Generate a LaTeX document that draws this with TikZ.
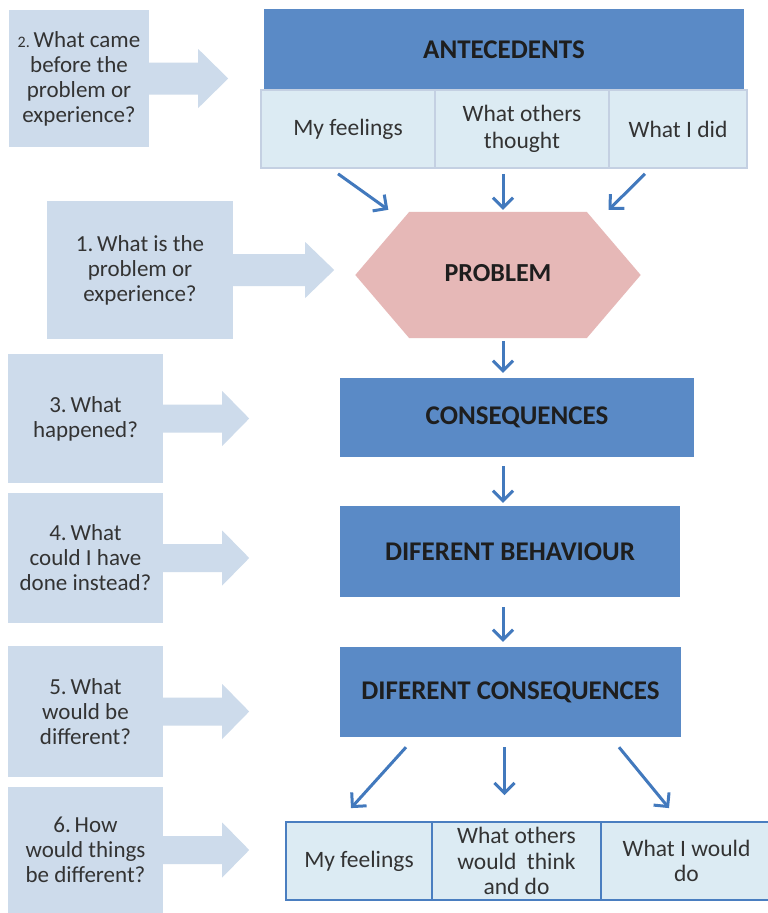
\documentclass[tikz,border=0pt]{standalone}
\usepackage{fontspec}
\setmainfont{Carlito}
\usetikzlibrary{arrows.meta,calc}
\definecolor{hdrblue}{HTML}{5A8AC6}
\definecolor{leftfill}{HTML}{CDDBEB}
\definecolor{subfill}{HTML}{DCEBF3}
\definecolor{subborder}{HTML}{C4D0E2}
\definecolor{probfill}{HTML}{E6B8B7}
\definecolor{arrowblue}{HTML}{4279BD}
\definecolor{tblborder}{HTML}{4A7EC0}
\definecolor{txt}{HTML}{1E1E1E}
\definecolor{subtxt}{HTML}{333333}
\begin{document}
\begin{tikzpicture}[x=1pt,y=-1pt,
  hdr/.style={fill=hdrblue, draw=none, inner sep=0pt, text=txt, align=center,
    font=\bfseries\fontsize{27}{30}\selectfont},
  subcell/.style={fill=subfill, draw=subborder, line width=1.6pt, inner sep=0pt,
    text=subtxt, align=center, font=\fontsize{23.5}{27}\selectfont},
  tblcell/.style={fill=subfill, draw=tblborder, line width=1.8pt, inner sep=0pt,
    text=subtxt, align=center, font=\fontsize{23.5}{25.5}\selectfont},
  qbox/.style={fill=leftfill, draw=none, inner sep=0pt, text=subtxt, align=center,
    font=\fontsize{23}{25}\selectfont},
  conn/.style={draw=arrowblue, line width=3pt,
    -{Straight Barb[length=10pt,width=20pt,line width=3pt]}}]
\useasboundingbox (0,0) rectangle (768,913);
\clip (0,0) rectangle (768,913);
\fill[white] (0,0) rectangle (768,913);

% ---------- left question boxes ----------
\node[qbox, minimum width=140pt, minimum height=137pt] (q2) at (79,78.5)
  {{\fontsize{16}{16}\selectfont 2.}\,What came\\before the\\problem or\\experience?};
\node[qbox, minimum width=186pt, minimum height=138pt] (q1) at (140,270)
  {1.\,What is the\\problem or\\experience?};
\node[qbox, minimum width=155pt, minimum height=129pt] (q3) at (85.5,418.5)
  {3.\,What\\happened?};
\node[qbox, minimum width=155pt, minimum height=130pt] (q4) at (85.5,558)
  {4.\,What\\could I have\\done instead?};
\node[qbox, minimum width=155pt, minimum height=131pt] (q5) at (85.5,711.5)
  {5.\,What\\would be\\different?};
\node[qbox, minimum width=155pt, minimum height=126pt] (q6) at (85.5,850)
  {6.\,How\\would things\\be different?};

% callout arrows
\fill[leftfill] ($(q2.east)+(-1,-16)$) -- ($(q2.east)+(49,-16)$) -- ($(q2.east)+(49,-29.5)$)
  -- ($(q2.east)+(79,0)$) -- ($(q2.east)+(49,29.5)$) -- ($(q2.east)+(49,16)$) -- ($(q2.east)+(-1,16)$) -- cycle;
\fill[leftfill] ($(q1.east)+(-1,-16)$) -- ($(q1.east)+(72,-16)$) -- ($(q1.east)+(72,-28)$)
  -- ($(q1.east)+(101,0)$) -- ($(q1.east)+(72,28)$) -- ($(q1.east)+(72,16)$) -- ($(q1.east)+(-1,16)$) -- cycle;
\foreach \q in {q3,q4,q5,q6}{
  \fill[leftfill] ($(\q.east)+(-1,-14)$) -- ($(\q.east)+(59,-14)$) -- ($(\q.east)+(59,-27.5)$)
    -- ($(\q.east)+(86,0)$) -- ($(\q.east)+(59,27.5)$) -- ($(\q.east)+(59,14)$) -- ($(\q.east)+(-1,14)$) -- cycle;
}

% ---------- antecedents ----------
\node[hdr, minimum width=480pt, minimum height=81pt] (ante) at (504,49.5) {ANTECEDENTS};
\node[subcell, minimum width=174pt, minimum height=78pt] (a1) at (348,129) {My feelings};
\node[subcell, minimum width=174pt, minimum height=78pt] (a2) at (522,129) {What others\\thought};
\node[subcell, minimum width=138pt, minimum height=78pt] (a3) at (678,129) {What I did};

% ---------- problem hexagon ----------
\node[minimum width=285pt, minimum height=126pt, inner sep=0pt] (prob) at (498,275) {};
\fill[probfill] (prob.west) -- ($(prob.north west)+(54,0)$) -- ($(prob.north east)+(-54,0)$)
  -- (prob.east) -- ($(prob.south east)+(-54,0)$) -- ($(prob.south west)+(54,0)$) -- cycle;
\node[text=txt, font=\bfseries\fontsize{26}{30}\selectfont] at ($(prob.center)+(0,-2)$) {PROBLEM};

% ---------- chain ----------
\node[hdr, minimum width=354pt, minimum height=79pt] (cons) at (517,417.5) {CONSEQUENCES};
\node[hdr, minimum width=340pt, minimum height=91pt] (db) at (510,551.5) {DIFERENT BEHAVIOUR};
\node[hdr, minimum width=341pt, minimum height=90pt] (dc) at (510.5,692) {DIFERENT CONSEQUENCES};

% ---------- bottom table ----------
\node[tblcell, minimum width=146pt, minimum height=78pt] (b1) at (359,861) {My feelings};
\node[tblcell, minimum width=169pt, minimum height=78pt] (b2) at (516.5,861) {What others\\would\ \ think\\and do};
\node[tblcell, minimum width=171pt, minimum height=78pt] (b3) at (686.5,861) {What I would\\do};

% ---------- connectors ----------
\draw[conn] ($(a1.south)+(-10,5)$) -- ($(prob.north west)+(33,-2)$);
\draw[conn] ($(a2.south)+(-19,5)$) -- ($(prob.north)+(5,-2)$);
\draw[conn] ($(a3.south)+(-33,5)$) -- ($(prob.north east)+(-32,-2)$);
\draw[conn] ($(prob.south)+(5,3)$) -- ($(cons.north)+(-14,-5)$);
\draw[conn] ($(cons.south)+(-14,9)$) -- ($(db.north)+(-7,-3)$);
\draw[conn] ($(db.south)+(-7,10)$) -- ($(dc.north)+(-7.5,-5)$);
\draw[conn] ($(dc.south)+(-104.5,10)$) -- ($(b1.north)+(-8,-13)$);
\draw[conn] ($(dc.south)+(-6,10)$) -- ($(b2.north)+(-12,-26)$);
\draw[conn] ($(dc.south)+(108.5,10)$) -- ($(b3.north)+(-17.5,-13)$);
\end{tikzpicture}
\end{document}
